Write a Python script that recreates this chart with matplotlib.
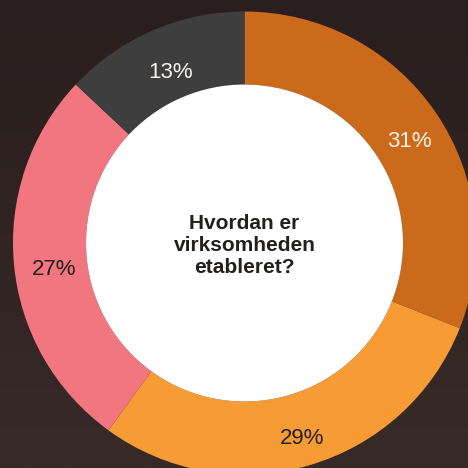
import numpy as np
import matplotlib
matplotlib.use('Agg')
import matplotlib.pyplot as plt
from matplotlib.patches import Circle

# Data (clockwise from the top)
shares = [31, 29, 27, 13]
slice_colors = ['#CC6A1C', '#F79C34', '#F27680', '#3E3E3E']
label_colors = ['#F7F2EE', '#231F1E', '#231F1E', '#F7F2EE']
center_title = 'Hvordan er\nvirksomheden\netableret?'

plt.rcParams['font.family'] = ['Liberation Sans', 'DejaVu Sans']

fig = plt.figure(figsize=(4.68, 4.68), dpi=100)
ax = fig.add_axes([0, 0, 1, 1])

# centre of the ring sits at pixel (244.5, 243), outer radius 231.5 px
scale = 231.5
x0, x1 = -244.5 / scale, (468 - 244.5) / scale
y0, y1 = -(468 - 243) / scale, 243 / scale

# dark brown backdrop, a little lighter towards the bottom
grad = np.linspace(0, 1, 256).reshape(-1, 1)
bg = matplotlib.colors.LinearSegmentedColormap.from_list('bg', ['#2A1E1E', '#382A27'])
ax.imshow(grad, cmap=bg, extent=[x0, x1, y0, y1], aspect='auto', zorder=0)

hole = 158.5 / scale
wedges, texts, autotexts = ax.pie(
    shares, colors=slice_colors, startangle=90, counterclock=False,
    radius=1, wedgeprops=dict(width=1 - hole, edgecolor='none', linewidth=0),
    autopct=lambda p: '%d%%' % round(p), pctdistance=(1 + hole) / 2,
    textprops=dict(fontsize=16))
for t, c in zip(autotexts, label_colors):
    t.set_color(c)
    # labels in the original sit a touch below the ring's mid-line
    x, y = t.get_position()
    t.set_position((x + 0.015, y - 0.035))

ax.add_patch(Circle((0, 0), hole, facecolor='white', edgecolor='none', zorder=3))
ax.text(0, -0.01, center_title, ha='center', va='center', fontsize=15,
        fontweight='bold', color='#231F1E', linespacing=1.2, zorder=4)

ax.set_aspect('auto')
ax.set_xlim(x0, x1)
ax.set_ylim(y0, y1)
ax.axis('off')

fig.savefig('out.png', dpi=100)
